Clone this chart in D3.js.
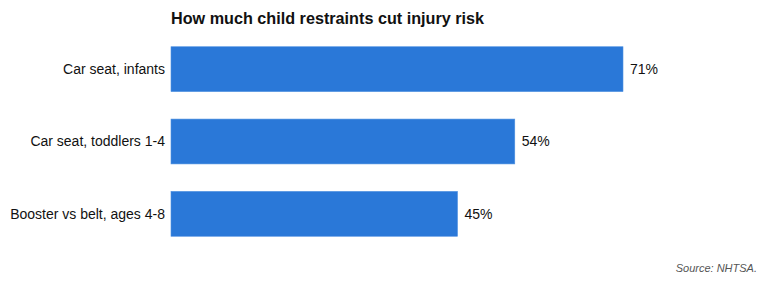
<!DOCTYPE html>
<html>
<head>
<meta charset="utf-8">
<script src="https://cdn.jsdelivr.net/npm/d3@7"></script>
<style>
  body { margin: 0; background: #fff; }
  text { font-family: "Liberation Sans", Arial, sans-serif; }
</style>
</head>
<body>
<svg id="chart" width="766" height="283"></svg>
<script>
var categories = ["Car seat, infants", "Car seat, toddlers 1-4", "Booster vs belt, ages 4-8"];
var values = [71, 54, 45];
var titleText = "How much child restraints cut injury risk";
var sourceText = "Source: NHTSA.";

var width = 766, height = 283,
    margin = {top: 47, left: 171, bottom: 47};

var svg = d3.select("#chart");

var x = d3.scaleLinear()
    .domain([0, 71])
    .range([margin.left, 623]);

var y = d3.scaleBand()
    .domain(categories)
    .range([33, 250])
    .paddingInner(0.38)
    .paddingOuter(0.19);

svg.append("text")
    .attr("x", 171)
    .attr("y", 24)
    .attr("font-size", 16.2)
    .attr("font-weight", "bold")
    .attr("fill", "#111")
    .text(titleText);

var rows = svg.selectAll("g.row")
  .data(categories)
  .enter().append("g")
    .attr("class", "row");

rows.append("rect")
    .attr("x", x(0))
    .attr("y", function(d) { return y(d); })
    .attr("width", function(d, i) { return x(values[i]) - x(0); })
    .attr("height", y.bandwidth())
    .attr("fill", "#2a78d8")
    .attr("stroke", "#4d8fe0")
    .attr("stroke-width", 0.6);

rows.append("text")
    .attr("x", 165)
    .attr("y", function(d) { return y(d) + y.bandwidth() / 2; })
    .attr("dy", "0.35em")
    .attr("text-anchor", "end")
    .attr("font-size", 14)
    .attr("fill", "#111")
    .text(function(d) { return d; });

rows.append("text")
    .attr("x", function(d, i) { return x(values[i]) + 7; })
    .attr("y", function(d) { return y(d) + y.bandwidth() / 2; })
    .attr("dy", "0.35em")
    .attr("font-size", 14)
    .attr("fill", "#111")
    .text(function(d, i) { return values[i] + "%"; });

svg.append("text")
    .attr("x", 757)
    .attr("y", 272)
    .attr("text-anchor", "end")
    .attr("font-size", 11)
    .attr("font-style", "italic")
    .attr("fill", "#555")
    .text(sourceText);
</script>
</body>
</html>
